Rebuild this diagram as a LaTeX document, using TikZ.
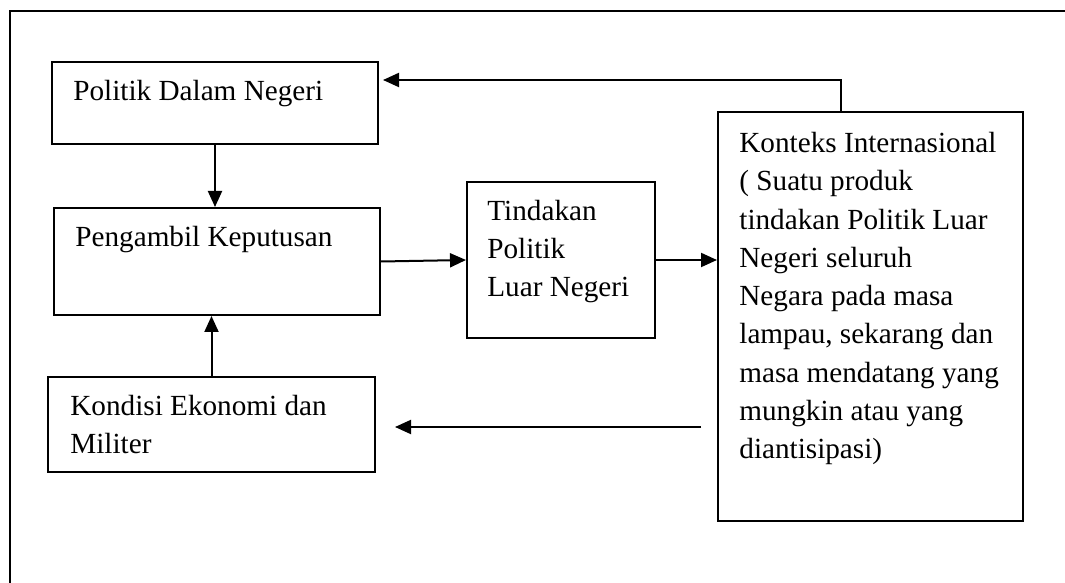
\documentclass[tikz,border=0pt]{standalone}
\usepackage{fontspec}
\setmainfont{Liberation Serif}
\usetikzlibrary{arrows.meta}

\begin{document}
\begin{tikzpicture}[x=0.5bp, y=-0.5bp,
    boite/.style={draw, line width=1bp, inner sep=0pt},
    texte/.style={anchor=north west, align=left, inner sep=0pt,
      font=\fontsize{14.6bp}{19.15bp}\selectfont},
    fleche/.style={line width=1bp, -{Triangle[length=8bp,width=7bp]}}]

    \useasboundingbox (0,0) rectangle (1065,583);

    \newcommand{\mkboite}[8]{
      % le cadre
      \node[boite, minimum width={(#4-#2)*0.5bp}, minimum height={(#5-#3)*0.5bp}]
        (#1) at ({(#2+#4)/2},{(#3+#5)/2}) {};
      % le texte (#7 = ligne de base de la premiere ligne)
      \node[texte] (#1-txt) at (#6,#7-24) {\rule{0pt}{12bp}#8};
    }

    % cadre exterieur
    \draw[line width=1bp] (10,583) -- (10,11) -- (1065,11);

    % les boites
    \mkboite{pol}{52}{62}{378}{144}{73}{100}{Politik Dalam Negeri}
    \mkboite{peng}{54}{208}{380}{315}{75}{246}{Pengambil Keputusan}
    \mkboite{kond}{48}{377}{375}{472}{70}{415}{Kondisi Ekonomi dan\\Militer}
    \mkboite{tind}{467}{182}{655}{338}{487}{220}{Tindakan\\Politik\\Luar Negeri}
    \mkboite{kont}{718}{112}{1023}{521}{739}{152}{Konteks Internasional\\( Suatu produk\\tindakan Politik Luar\\Negeri seluruh\\Negara pada masa\\lampau, sekarang dan\\masa mendatang yang\\mungkin atau yang\\diantisipasi)}

    % les fleches
    \draw[fleche] (pol.south) -- (pol.south |- peng.north);
    \draw[fleche] (kond.north) -- (kond.north |- peng.south);
    \draw[fleche] (peng.east) -- (tind.west);
    \draw[fleche] (tind.east) -- (tind.east -| kont.west);

    % retour vers le haut
    \coordinate (haut) at (841,80);
    \coordinate (retour) at (383,80);
    \draw[fleche] (kont.north -| haut) -- (haut) -- (retour);

    % retour vers le bas
    \coordinate (bas) at (701,427);
    \coordinate (bas-fin) at (395,427);
    \draw[fleche] (bas) -- (bas-fin);

\end{tikzpicture}
\end{document}
